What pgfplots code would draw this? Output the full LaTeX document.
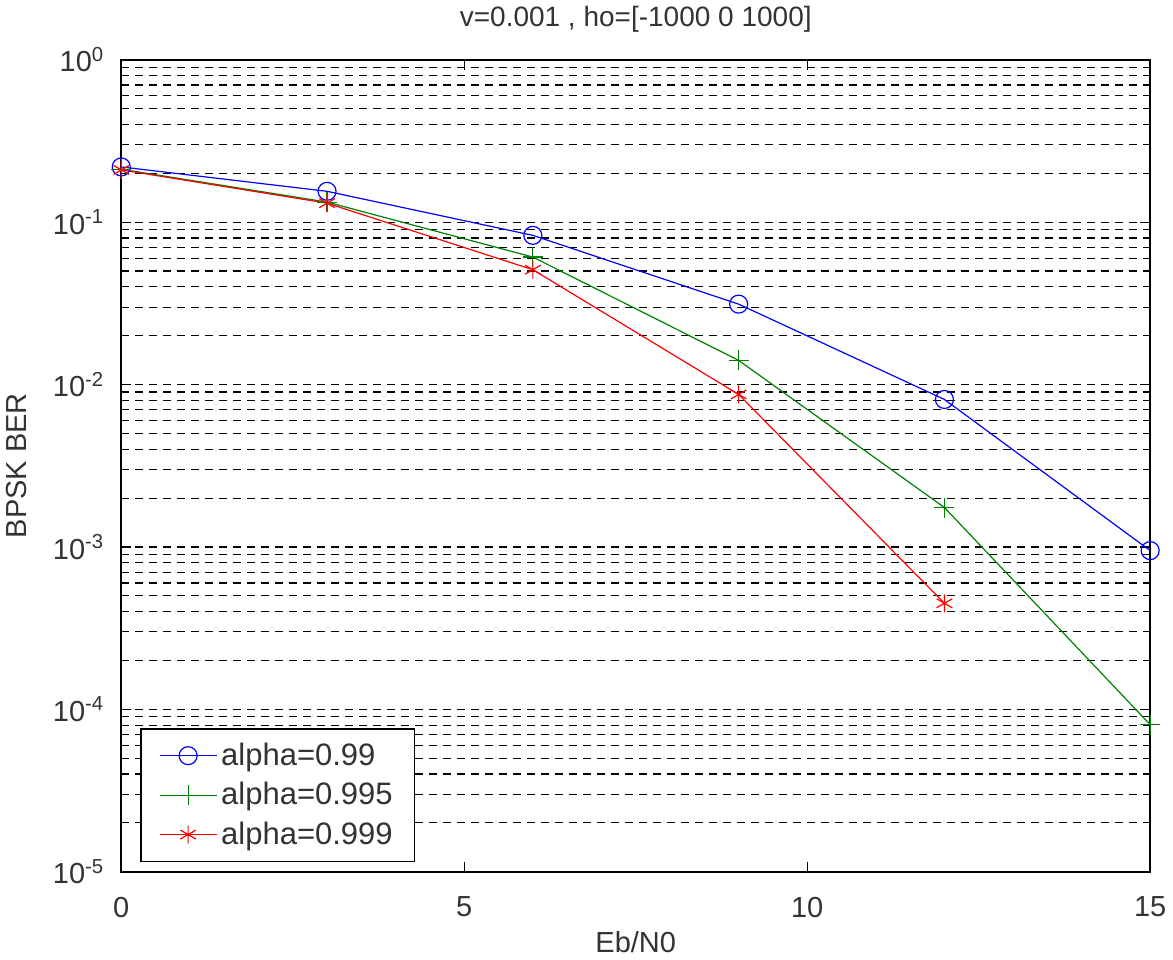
\documentclass[border=0pt]{standalone}
\usepackage{fontspec}
\setmainfont{Liberation Sans}
\usepackage{pgfplots}
\pgfplotsset{compat=1.18}
\begin{document}
\begin{tikzpicture}
\begin{axis}[
  scale only axis,
  width=514.5pt, height=406pt,
  ymode=log,
  xmin=0, xmax=15, ymin=1e-5, ymax=1,
  xtick={0,5,10,15},
  xticklabels={0,5,10,15},
  ytick={1e-5,1e-4,1e-3,1e-2,1e-1,1},
  yticklabels={10\textsuperscript{-5},10\textsuperscript{-4},10\textsuperscript{-3},10\textsuperscript{-2},10\textsuperscript{-1},10\textsuperscript{0}},
  tick align=inside,
  major tick length=5pt,
  minor tick length=3pt,
  ymajorgrids, yminorgrids,
  major grid style={black, dash pattern=on 4pt off 3pt, line width=0.6pt},
  minor grid style={black, dash pattern=on 4pt off 3pt, line width=0.6pt},
  axis line style={black, line width=0.8pt},
  tick style={black, line width=0.6pt},
  every tick label/.style={font=\fontsize{14.5}{16}\selectfont, text=black!80},
  xticklabel style={yshift=-9pt},
  yticklabel style={xshift=-5pt},
  title={v=0.001 , ho=[-1000 0 1000]},
  title style={font=\fontsize{14}{16}\selectfont, text=black!80, yshift=4pt},
  xlabel={Eb/N0},
  ylabel={BPSK BER},
  xlabel style={font=\fontsize{14.5}{16}\selectfont, text=black!80, yshift=0pt},
  ylabel style={font=\fontsize{14.5}{16}\selectfont, text=black!80, yshift=6pt},
  legend style={at={(axis cs:0.28,1.15e-5)}, anchor=south west, draw=black, line width=0.6pt,
    font=\fontsize{15.5}{17}\selectfont, text=black!80, row sep=3pt, inner xsep=9pt, inner ysep=5pt},
  legend cell align=left,
  legend image code/.code={
    \draw[mark repeat=2,mark phase=2] plot coordinates {(0cm,0cm) (0.5cm,0cm) (1cm,0cm)};
  },
]
\addplot[blue, line width=0.6pt, mark=o, mark size=4.5pt, mark options={solid}] coordinates {
(0,0.219) (3,0.155) (6,0.083) (9,0.0313) (12,0.0081) (15,0.00095)};
\addlegendentry{alpha=0.99}
\addplot[green!50!black, line width=0.6pt, mark=+, mark size=5pt] coordinates {
(0,0.212) (3,0.133) (6,0.061) (9,0.0141) (12,0.00175) (15,8.05e-5)};
\addlegendentry{alpha=0.995}
\addplot[red, line width=0.6pt, mark=asterisk, mark size=4.5pt] coordinates {
(0,0.21) (3,0.131) (6,0.051) (9,0.0087) (12,0.00045)};
\addlegendentry{alpha=0.999}
\end{axis}
\end{tikzpicture}
\end{document}
